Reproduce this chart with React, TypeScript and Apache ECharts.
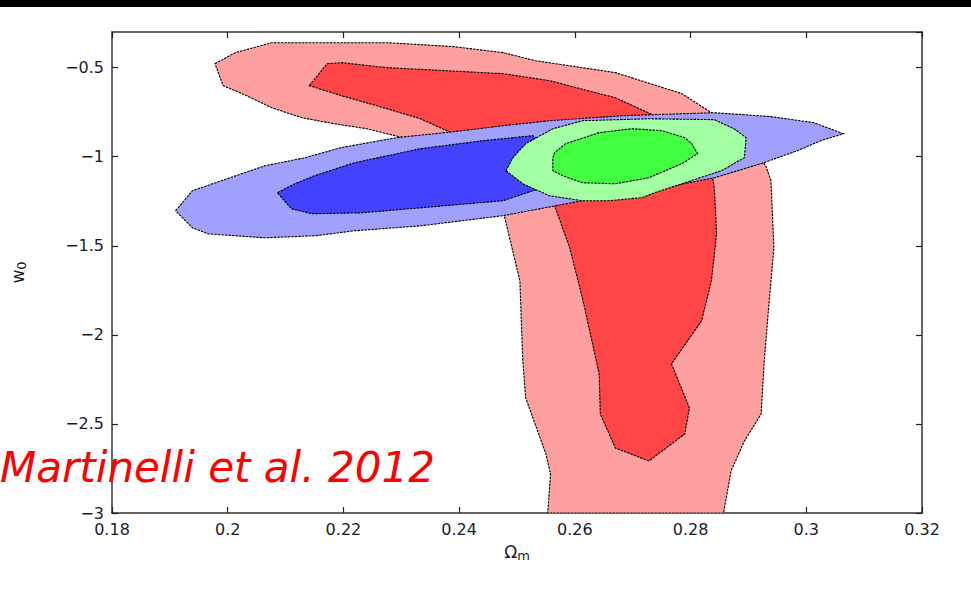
import React, { useEffect, useRef } from "react";
import * as echarts from "echarts";

// x: Omega_m, y: w0 — contour polygons
const outerRed: number[][] = [
  [0.1978, -0.478], [0.2013, -0.416], [0.2076, -0.36], [0.2275, -0.36], [0.239, -0.382],
  [0.2476, -0.416], [0.2532, -0.461], [0.267, -0.528], [0.2785, -0.646], [0.2836, -0.753],
  [0.2887, -0.882], [0.293, -1.051], [0.2939, -1.135], [0.2944, -1.511], [0.2934, -1.882],
  [0.2927, -2.163], [0.2922, -2.444], [0.2893, -2.596], [0.287, -2.764], [0.2857, -3.0],
  [0.2553, -3.0], [0.2558, -2.781], [0.255, -2.669], [0.2515, -2.354], [0.251, -2.146],
  [0.2505, -1.697], [0.2476, -1.303], [0.2459, -1.079], [0.2373, -0.966], [0.2304, -0.893],
  [0.2275, -0.871], [0.2241, -0.843], [0.2184, -0.815], [0.2128, -0.781], [0.2076, -0.725],
  [0.2025, -0.646], [0.1992, -0.601],
];
const innerRed: number[][] = [
  [0.2141, -0.601], [0.2172, -0.478], [0.2196, -0.472], [0.2275, -0.5], [0.2476, -0.534],
  [0.2556, -0.573], [0.267, -0.669], [0.2738, -0.77], [0.2802, -0.91], [0.2836, -1.079],
  [0.2841, -1.174], [0.2845, -1.433], [0.2836, -1.697], [0.2819, -1.921], [0.2767, -2.163],
  [0.2798, -2.41], [0.279, -2.556], [0.2728, -2.708], [0.267, -2.635], [0.2644, -2.444],
  [0.2642, -2.219], [0.2613, -1.792], [0.2591, -1.511], [0.2567, -1.292], [0.251, -1.079],
  [0.239, -0.871], [0.2333, -0.787], [0.2275, -0.73], [0.2196, -0.657],
];
const outerBlue: number[][] = [
  [0.191, -1.303], [0.1939, -1.191], [0.2004, -1.118], [0.2064, -1.051], [0.2133, -1.006],
  [0.2196, -0.949], [0.2292, -0.893], [0.239, -0.86], [0.2476, -0.826], [0.2556, -0.798],
  [0.2682, -0.77], [0.2841, -0.753], [0.2939, -0.775], [0.3013, -0.809], [0.3064, -0.871],
  [0.3025, -0.91], [0.2985, -0.966], [0.2922, -1.039], [0.2841, -1.118], [0.2728, -1.191],
  [0.2613, -1.247], [0.2476, -1.331], [0.2333, -1.388], [0.2219, -1.416], [0.215, -1.444],
  [0.2064, -1.455], [0.1966, -1.433], [0.1939, -1.399],
];
const innerBlue: number[][] = [
  [0.2086, -1.202], [0.2116, -1.152], [0.215, -1.107], [0.2219, -1.034], [0.2333, -0.955],
  [0.2442, -0.91], [0.2527, -0.882], [0.2562, -0.966], [0.2553, -1.163], [0.2476, -1.247],
  [0.2333, -1.287], [0.2231, -1.315], [0.2145, -1.32], [0.211, -1.292],
];
const outerGreen: number[][] = [
  [0.2481, -1.079], [0.2493, -1.006], [0.2515, -0.927], [0.2562, -0.843], [0.2613, -0.798],
  [0.2728, -0.787], [0.2841, -0.792], [0.2875, -0.843], [0.2896, -0.893], [0.2893, -1.006],
  [0.2853, -1.079], [0.2785, -1.152], [0.2738, -1.202], [0.2716, -1.23], [0.2659, -1.247],
  [0.2613, -1.247], [0.2556, -1.219], [0.251, -1.152],
];
const innerGreen: number[][] = [
  [0.2562, -1.006], [0.2565, -0.978], [0.2584, -0.927], [0.2642, -0.865], [0.2699, -0.843],
  [0.275, -0.854], [0.279, -0.893], [0.2802, -0.927], [0.2812, -0.983], [0.2785, -1.039],
  [0.2728, -1.118], [0.267, -1.152], [0.2613, -1.146], [0.2579, -1.107], [0.2562, -1.079],
];

const contourColors = ["#ffa0a0", "#ff4545", "#a0a0ff", "#4242ff", "#a2ffa2", "#42ff42"];
const contours = [outerRed, innerRed, outerBlue, innerBlue, outerGreen, innerGreen];

const xMin = 0.18, xMax = 0.32, xStep = 0.02;
const yMin = -3, yMax = -0.3, yStep = 0.5;
const citation = "Martinelli et al. 2012";

const FONT = "DejaVu Sans";

export default function App() {
  const ref = useRef<HTMLDivElement>(null);
  useEffect(() => {
    if (!ref.current) return;
    const chart = echarts.init(ref.current, undefined, { renderer: "svg" });
    const axisLine = { show: true, onZero: false, lineStyle: { color: "#333", width: 1.5 } };
    const axisTick = { show: true, inside: true, length: 6, lineStyle: { color: "#222", width: 1.2 } };
    const labelStyle = { fontFamily: FONT, fontSize: 16, color: "#1a1a2a" };
    const xFmt = (v: number) => String(Math.round(v * 100) / 100);
    const yFmt = (v: number) => (v > -0.45 ? "" : String(Math.round(v * 10) / 10).replace("-", "\u2212"));
    const nameStyle = {
      fontFamily: FONT, fontSize: 17, color: "#1a1a2a", lineHeight: 20,
      rich: { sub: { fontFamily: FONT, fontSize: 13, color: "#1a1a2a", lineHeight: 4, verticalAlign: "bottom" } },
    };
    const option: any = {
      animation: false,
      backgroundColor: "#fff",
      grid: { left: 106, right: 49, top: 32, bottom: 76, show: false },
      xAxis: [
        {
          type: "value", min: xMin, max: xMax, interval: xStep, position: "bottom",
          axisLine, axisTick, splitLine: { show: false },
          axisLabel: { ...labelStyle, margin: 8, formatter: xFmt },
          name: "\u03A9{sub|m}", nameLocation: "middle", nameGap: 26,
          nameTextStyle: nameStyle,
        },
        {
          type: "value", min: xMin, max: xMax, interval: xStep, position: "top",
          axisLine, axisTick, splitLine: { show: false }, axisLabel: { show: false },
        },
      ],
      yAxis: [
        {
          type: "value", min: yMin, max: yMax, interval: yStep, position: "left",
          axisLine, axisTick, splitLine: { show: false },
          axisLabel: { ...labelStyle, margin: 8, formatter: yFmt, showMaxLabel: false },
          name: "w{sub|0}", nameLocation: "middle", nameGap: 84, nameRotate: 90,
          nameTextStyle: nameStyle,
        },
        {
          type: "value", min: yMin, max: yMax, interval: yStep, position: "right",
          axisLine, axisTick, splitLine: { show: false }, axisLabel: { show: false },
        },
      ],
      series: contours.map((pts, i) => ({
        type: "custom",
        coordinateSystem: "cartesian2d",
        xAxisIndex: 0,
        yAxisIndex: 0,
        clip: true,
        silent: true,
        z: 2 + i,
        data: [pts[0]],
        renderItem: (_params: any, api: any) => ({
          type: "polygon",
          shape: { points: pts.map((p) => api.coord(p)) },
          style: { fill: contourColors[i], stroke: "#000", lineWidth: 1.1, lineDash: [2.5, 1] },
        }),
      })),
      graphic: [
        { type: "rect", left: 0, top: 0, z: 100, shape: { width: 971, height: 7 }, style: { fill: "#000" } },
        {
          type: "text", x: 0, y: 467, z: 100,
          style: {
            text: citation, fill: "#ff0000", fontFamily: FONT, fontStyle: "italic",
            fontSize: 42, verticalAlign: "middle", align: "left",
          },
        },
      ],
    };
    chart.setOption(option);
    return () => chart.dispose();
  }, []);
  return (
    <div
      ref={ref}
      style={{ position: "fixed", left: 0, top: 0, width: 971, height: 589, background: "#fff" }}
    />
  );
}
